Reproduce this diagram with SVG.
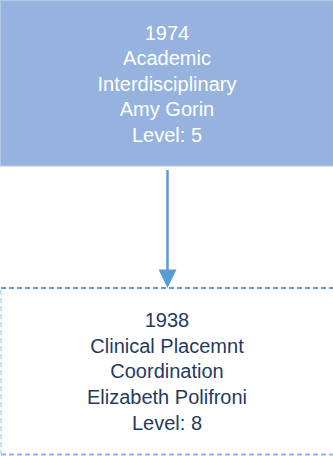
<svg xmlns="http://www.w3.org/2000/svg" width="333" height="456" viewBox="0 0 333 456">
<style>
.t{font-family:"Liberation Sans",Arial,sans-serif;font-size:20px;text-anchor:middle}
.w{fill:#ffffff}
.d{fill:#1f3b5e}
.dash{fill:none;stroke-dasharray:5 3}
</style>
<g id="connectors">
<line x1="167.5" y1="170" x2="167.5" y2="270" stroke="#5b9bd5" stroke-width="2.5"/>
<path d="M158.5,269.5 L176.5,269.5 L167.5,288 Z" fill="#5b9bd5"/>
</g>
<g id="node1">
<rect x="0.5" y="0.5" width="333" height="165.5" fill="#95b3de" stroke="#b2c9ea" stroke-width="1"/>
<text class="t w" x="167" y="39.5">1974</text>
<text class="t w" x="167" y="65">Academic</text>
<text class="t w" x="167" y="90.5">Interdisciplinary</text>
<text class="t w" x="167" y="116">Amy Gorin</text>
<text class="t w" x="167" y="142">Level: 5</text>
</g>
<g id="node2">
<line class="dash" x1="1" y1="288" x2="333" y2="288" stroke="#5b9bd5" stroke-width="2"/>
<line class="dash" x1="1" y1="290" x2="1" y2="454" stroke="#bdd7ee" stroke-width="1.5"/>
<line class="dash" x1="1" y1="454.5" x2="333" y2="454.5" stroke="#8db4e2" stroke-width="2"/>
<text class="t d" x="167" y="327">1938</text>
<text class="t d" x="167" y="352.5">Clinical Placemnt</text>
<text class="t d" x="167" y="378">Coordination</text>
<text class="t d" x="167" y="404">Elizabeth Polifroni</text>
<text class="t d" x="167" y="429.5">Level: 8</text>
</g>
</svg>
